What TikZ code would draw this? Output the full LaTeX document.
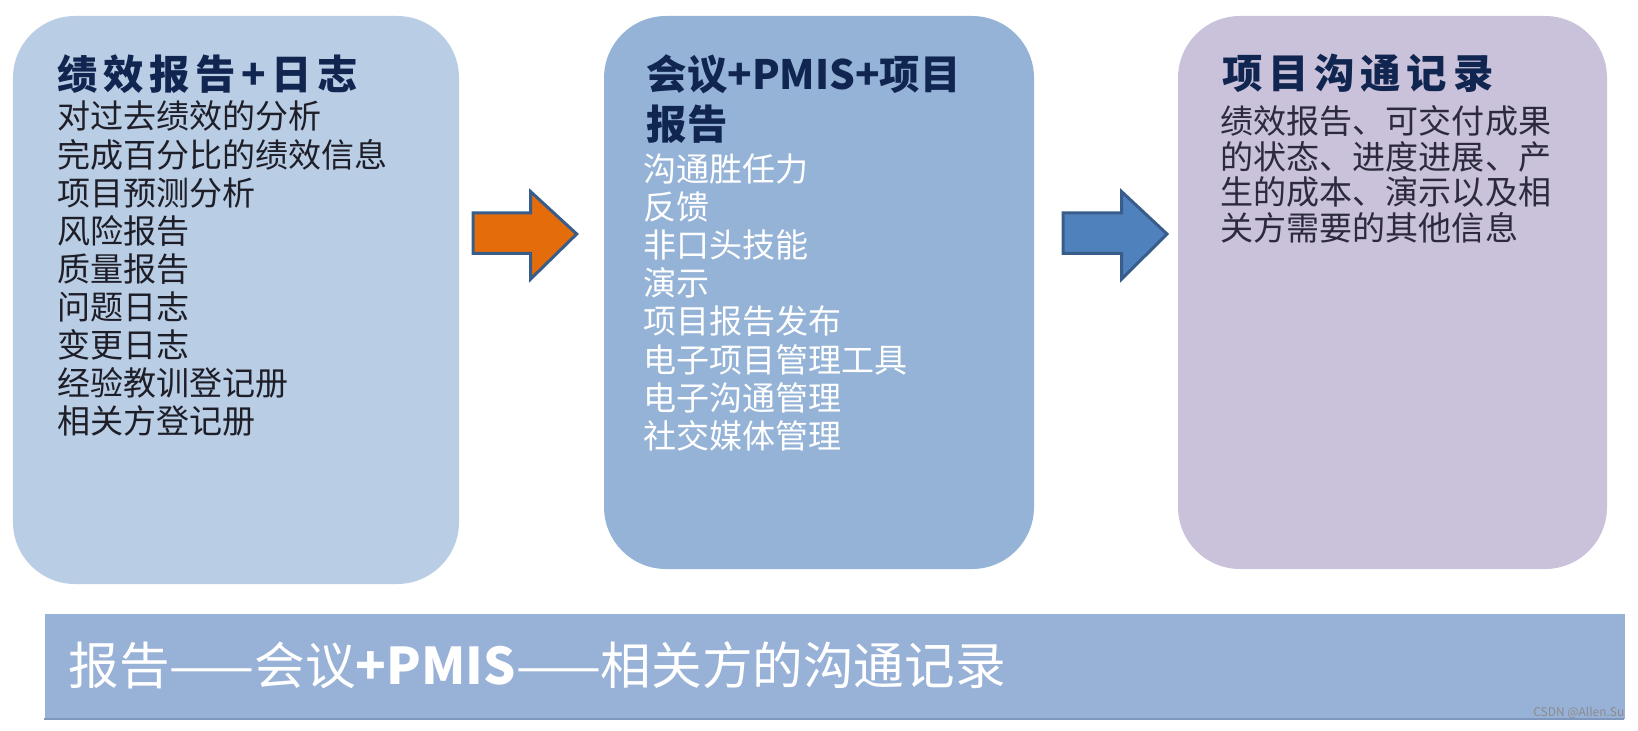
\documentclass[tikz,border=0pt]{standalone}
\usepackage{fontspec}
\newfontfamily\cjk{Noto Sans CJK SC}
\newfontfamily\cjkspaced{Noto Sans CJK SC}[LetterSpace=14]

\definecolor{boxA}{HTML}{B9CDE5}
\definecolor{boxB}{HTML}{95B3D7}
\definecolor{boxC}{HTML}{CAC1DA}
\definecolor{bannerfill}{HTML}{98B1D6}
\definecolor{bannerline}{HTML}{7F97BC}
\definecolor{headnavy}{HTML}{10254F}
\definecolor{bodydark}{HTML}{1E1E28}
\definecolor{bodygrey}{HTML}{2C2A3C}
\definecolor{arroworange}{HTML}{E46C0A}
\definecolor{arrowblue}{HTML}{4F81BD}
\definecolor{arrowedge}{HTML}{385D8A}

\begin{document}
\begin{tikzpicture}[
    card/.style={rounded corners=0.62cm, inner sep=0pt},
    head/.style={anchor=north west, inner sep=0pt, align=left, text=headnavy,
      font=\cjkspaced\bfseries\fontsize{11.5pt}{14.8pt}\selectfont},
    body/.style={anchor=north west, inner sep=0pt, align=left,
      font=\cjk\fontsize{9.4pt}{10.85pt}\selectfont},
    blockarrow/.style={draw=arrowedge, line width=0.03cm, line join=miter}
  ]
  \useasboundingbox (0, 0) rectangle (16.38, 7.30);

  % the three stages
  \node[card, fill=boxA, minimum width=4.46cm, minimum height=5.68cm] (logs) at (2.36, 4.30) {};
  \node[card, fill=boxB, minimum width=4.30cm, minimum height=5.53cm] (meetings) at (8.19, 4.375) {};
  \node[card, fill=boxC, minimum width=4.29cm, minimum height=5.53cm] (records) at (13.925, 4.375) {};

  \node[head] (logsHead) at (0.566, 6.764) {绩效报告+日志};
  \node[body, text=bodydark] (logsBody) at (0.566, 6.297)
    {对过去绩效的分析\\完成百分比的绩效信息\\项目预测分析\\风险报告\\质量报告\\问题日志\\变更日志\\经验教训登记册\\相关方登记册};

  \node[head, font=\cjk\bfseries\fontsize{11.5pt}{14.2pt}\selectfont] (meetingsHead) at (6.46, 6.764) {会议+PMIS+项目\\报告};
  \node[body, text=white] (meetingsBody) at (6.43, 5.77)
    {沟通胜任力\\反馈\\非口头技能\\演示\\项目报告发布\\电子项目管理工具\\电子沟通管理\\社交媒体管理};

  \node[head] (recordsHead) at (12.22, 6.767) {项目沟通记录};
  \node[body, text=bodygrey, font=\cjk\fontsize{9.4pt}{10.1pt}\selectfont] (recordsBody) at (12.20, 6.25)
    {绩效报告、可交付成果\\的状态、进度进展、产\\生的成本、演示以及相\\关方需要的其他信息};

  % block arrows
  \filldraw[blockarrow, fill=arroworange] (4.73, 5.17) -- (5.307, 5.17) -- (5.307, 5.383) -- (5.767, 4.96)
    -- (5.307, 4.51) -- (5.307, 4.765) -- (4.73, 4.765) -- cycle;
  \filldraw[blockarrow, fill=arrowblue] (10.63, 5.17) -- (11.217, 5.17) -- (11.217, 5.383) -- (11.67, 4.96)
    -- (11.217, 4.51) -- (11.217, 4.765) -- (10.63, 4.765) -- cycle;

  % summary bar
  \node[fill=bannerfill, inner sep=0pt, minimum width=15.80cm, minimum height=1.05cm] (summary) at (8.35, 0.635) {};
  \draw[bannerline, line width=0.02cm] (summary.south west) ++(0, 0.01) -- ++(15.80, 0);
  \node[anchor=west, inner sep=0pt, text=white, font=\cjk\fontsize{14.4pt}{16pt}\selectfont] (summaryText) at (0.68, 0.65)
    {报告——会议{\bfseries +PMIS}——相关方的沟通记录};

  \node[anchor=east, inner sep=0pt, text=black!45, font=\cjk\fontsize{3.4pt}{4pt}\selectfont] (mark) at (16.25, 0.17) {CSDN @Allen.Su};
\end{tikzpicture}
\end{document}
